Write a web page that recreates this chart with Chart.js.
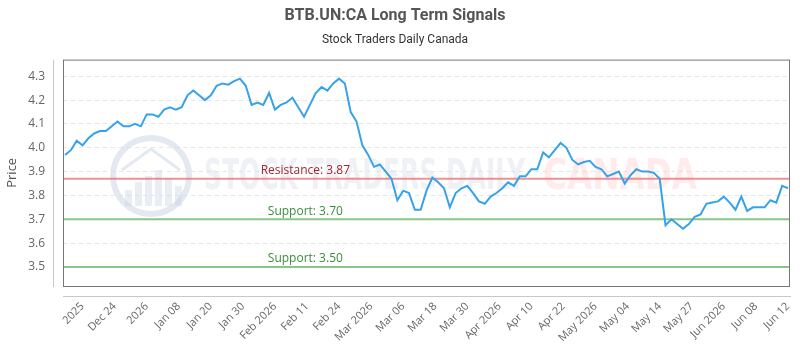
<!DOCTYPE html>
<html>
<head>
<meta charset="utf-8">
<script src="https://cdn.jsdelivr.net/npm/chart.js@4.4.1/dist/chart.umd.min.js"></script>
<style>
  body { margin: 0; background: #fff; }
  #wrap { width: 800px; height: 350px; }
</style>
</head>
<body>
<div id="wrap"><canvas id="bgChart"></canvas></div>
<script>
// daily closes
const prices = [
  3.97, 3.99, 4.03, 4.01, 4.04, 4.06, 4.07, 4.07, 4.09, 4.11,
  4.09, 4.09, 4.10, 4.09, 4.14, 4.14, 4.13, 4.16, 4.17, 4.16,
  4.17, 4.22, 4.24, 4.22, 4.20, 4.22, 4.26, 4.27, 4.265, 4.28,
  4.29, 4.26, 4.18, 4.19, 4.18, 4.23, 4.16, 4.18, 4.19, 4.21,
  4.17, 4.13, 4.18, 4.23, 4.255, 4.24, 4.27, 4.29, 4.27, 4.15,
  4.11, 4.01, 3.97, 3.92, 3.93, 3.90, 3.87, 3.78, 3.82, 3.81,
  3.74, 3.74, 3.82, 3.875, 3.855, 3.83, 3.75, 3.81, 3.83, 3.84,
  3.81, 3.775, 3.765, 3.795, 3.81, 3.83, 3.855, 3.84, 3.88, 3.88,
  3.91, 3.91, 3.98, 3.96, 3.99, 4.02, 4.00, 3.95, 3.93, 3.94,
  3.945, 3.92, 3.91, 3.88, 3.89, 3.90, 3.85, 3.885, 3.91, 3.90,
  3.90, 3.895, 3.87, 3.675, 3.70, 3.68, 3.66, 3.68, 3.71, 3.72,
  3.765, 3.77, 3.775, 3.795, 3.77, 3.74, 3.795, 3.735, 3.75, 3.75,
  3.75, 3.78, 3.77, 3.84, 3.83
];

const xLabels = [
  '2025', 'Dec 24', '2026', 'Jan 08', 'Jan 20', 'Jan 30', 'Feb 2026', 'Feb 11',
  'Feb 24', 'Mar 2026', 'Mar 06', 'Mar 18', 'Mar 30', 'Apr 2026', 'Apr 10',
  'Apr 22', 'May 2026', 'May 04', 'May 14', 'May 27', 'Jun 2026', 'Jun 08', 'Jun 12'
];
const firstLabelIndex = 3;

const yTicks = [3.5, 3.6, 3.7, 3.8, 3.9, 4.0, 4.1, 4.2, 4.3];

const levelValues = [3.87, 3.70, 3.50];
const levelNames = ['Resistance', 'Support', 'Support'];

const ctxs = document.getElementById('bgChart').getContext('2d');

let blue = 'rgba(54, 162, 235, 1)';

// watermark, level lines and frame
const decor = {
    id: 'decor',
    beforeDatasetsDraw(chart) {
        const c = chart.ctx;
        const y = chart.scales.y;
        const a = chart.chartArea;
        c.save();
        // logo
        c.strokeStyle = 'rgba(200, 210, 228, 0.5)';
        c.lineWidth = 6;
        c.beginPath();
        c.arc(151, 176, 38, 0, Math.PI * 2);
        c.stroke();
        c.fillStyle = 'rgba(200, 210, 228, 0.4)';
        [[125, 190], [135, 182], [145, 176], [155, 170], [165, 178], [175, 186]].forEach(function (b) {
            c.fillRect(b[0], b[1], 7, 206 - b[1]);
        });
        c.lineWidth = 3;
        c.beginPath();
        c.moveTo(122, 170);
        c.lineTo(151, 149);
        c.lineTo(180, 170);
        c.stroke();
        // words
        c.textBaseline = 'middle';
        c.font = 'bold 42px "DejaVu Sans Condensed", "Liberation Sans Narrow", sans-serif';
        c.fillStyle = 'rgba(205, 213, 228, 0.32)';
        let t1 = 'STOCK TRADERS DAILY';
        let w1 = c.measureText(t1).width;
        c.save();
        c.translate(204, 178);
        c.scale(321 / w1, 1);
        c.fillText(t1, 0, 0);
        c.restore();
        c.fillStyle = 'rgba(255, 190, 190, 0.3)';
        let t2 = 'CANADA';
        let w2 = c.measureText(t2).width;
        c.save();
        c.translate(543, 178);
        c.scale(154 / w2, 1);
        c.fillText(t2, 0, 0);
        c.restore();

        // level lines
        levelValues.forEach(function (v, i) {
            let py = y.getPixelForValue(v);
            c.strokeStyle = levelNames[i] === 'Resistance' ? 'rgba(235, 110, 110, 0.75)' : 'rgba(110, 185, 110, 0.8)';
            c.lineWidth = 2;
            c.beginPath();
            c.moveTo(a.left, py);
            c.lineTo(a.right, py);
            c.stroke();
        });
        c.restore();
    },
    afterDatasetsDraw(chart) {
        const c = chart.ctx;
        const y = chart.scales.y;
        const a = chart.chartArea;
        c.save();
        c.font = '12px "Open Sans"';
        c.textAlign = 'center';
        c.textBaseline = 'middle';
        levelValues.forEach(function (v, i) {
            let py = y.getPixelForValue(v);
            c.fillStyle = levelNames[i] === 'Resistance' ? '#a3282d' : '#3a8d3a';
            c.fillText(levelNames[i] + ': ' + v.toFixed(2), a.left + a.width / 3, py - 8);
        });
        c.restore();
    },
    afterDraw(chart) {
        const c = chart.ctx;
        const a = chart.chartArea;
        c.save();
        c.strokeStyle = '#777';
        c.lineWidth = 1;
        c.strokeRect(a.left + 0.5, a.top + 0.5, a.width - 1, a.height);
        c.strokeStyle = '#c8c8c8';
        c.beginPath();
        c.moveTo(a.left - 9.5, a.top);
        c.lineTo(a.left - 9.5, a.bottom + 1);
        c.moveTo(a.left, a.bottom + 10.5);
        c.lineTo(a.right + 1, a.bottom + 10.5);
        c.stroke();
        c.restore();
    }
};

var datas = {
    datasets: [{
        label: 'Price',
        data: prices.map(function (p, i) { return { x: i, y: p }; }),
        borderColor: blue,
        borderWidth: 2,
        pointRadius: 0,
        pointHoverRadius: 0,
        tension: 0,
        fill: false
    }]
};

const configs = {
    type: 'line',
    data: datas,
    plugins: [decor],
    options: {
        responsive: true,
        maintainAspectRatio: false,
        devicePixelRatio: 1,
        layout: { padding: { left: 0, right: 10, top: 0, bottom: 0 } },
        scales: {
            x: {
                type: 'linear',
                min: -0.35,
                max: prices.length - 1 + 0.35,
                afterBuildTicks: function (scale) {
                    let last = prices.length - 1;
                    let step = (last - firstLabelIndex) / (xLabels.length - 1);
                    scale.ticks = xLabels.map(function (l, i) { return { value: firstLabelIndex + i * step }; });
                },
                afterFit: function (scale) {
                    scale.height = 64;
                    scale.paddingLeft = 0;
                    scale.paddingRight = 0;
                },
                grid: { display: false, drawTicks: false },
                border: { display: false },
                ticks: {
                    autoSkip: false,
                    minRotation: 45,
                    maxRotation: 45,
                    padding: 14,
                    color: '#666',
                    font: { family: '"Open Sans"', size: 11 },
                    callback: function (v, i) { return xLabels[i]; }
                }
            },
            y: {
                min: 3.42,
                max: 4.37,
                afterBuildTicks: function (scale) {
                    scale.ticks = yTicks.map(function (v) { return { value: v }; });
                },
                afterFit: function (scale) { scale.width = 63; },
                grid: { color: '#e6e6e6', drawTicks: false },
                border: { display: false, dash: [4, 4] },
                ticks: {
                    padding: 18,
                    color: '#666',
                    font: { family: '"Open Sans"', size: 12 },
                    callback: function (v) { return v.toFixed(1); }
                },
                title: {
                    display: true,
                    text: 'Price',
                    color: '#555',
                    font: { family: '"Open Sans"', size: 13 },
                    padding: { top: 4, bottom: 0 }
                }
            }
        },
        plugins: {
            title: {
                display: true,
                text: 'BTB.UN:CA Long Term Signals',
                color: '#555',
                font: { family: 'Roboto', size: 16, weight: 'bold' },
                padding: { top: 6, bottom: 6 }
            },
            subtitle: {
                display: true,
                text: 'Stock Traders Daily Canada',
                color: '#333',
                font: { family: 'Roboto', size: 12 },
                padding: { top: 2, bottom: 12 }
            },
            legend: { display: false },
            tooltip: { enabled: false }
        },
        animation: { duration: 0 }
    }
};

new Chart(ctxs, configs);
</script>
</body>
</html>
